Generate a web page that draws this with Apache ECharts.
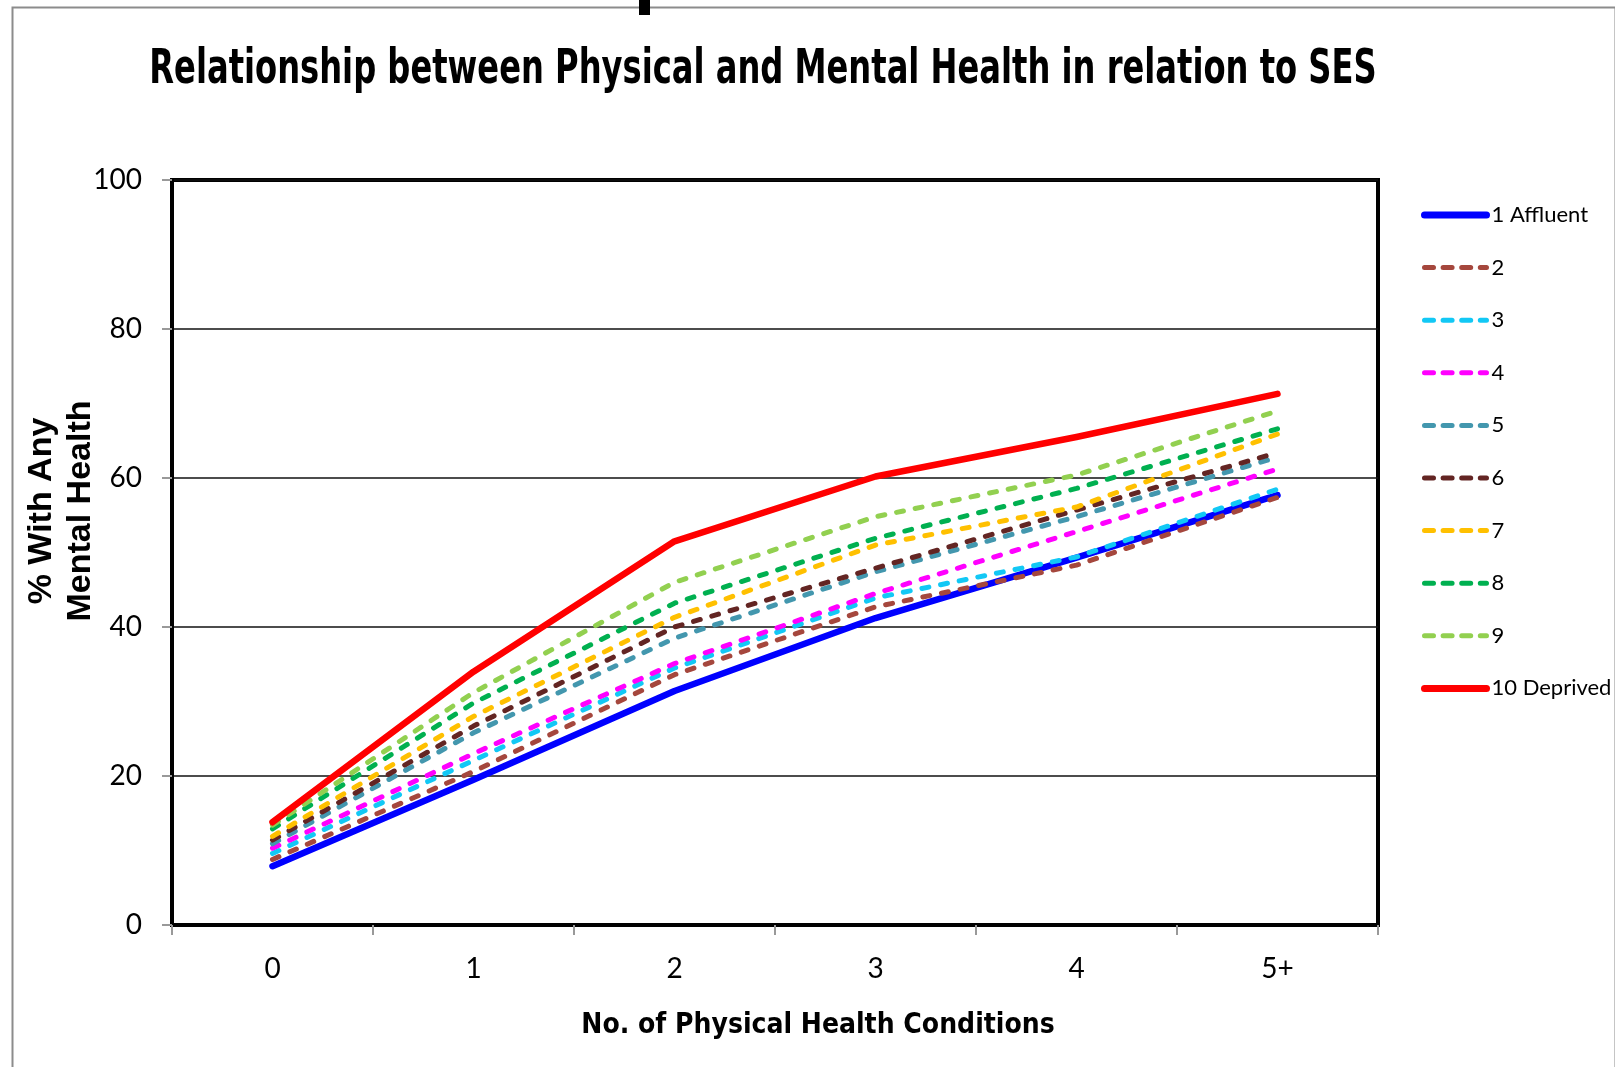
<!DOCTYPE html>
<html>
<head>
<meta charset="utf-8">
<title>Relationship between Physical and Mental Health in relation to SES</title>
<script src="https://cdn.jsdelivr.net/npm/echarts@6/dist/echarts.min.js"></script>
<style>
  html, body { margin: 0; padding: 0; background: #fff; }
  #chart { width: 1615px; height: 1067px; }
</style>
</head>
<body>
<div id="chart"></div>
<script>
// Number of physical health conditions (x categories)
const categories = ['0', '1', '2', '3', '4', '5+'];

// % with any mental health condition, by SES decile
const decile1 = [7.9, 19.5, 31.4, 41.2, 49.3, 57.7];
const decile2 = [8.8, 20.6, 33.6, 42.7, 48.3, 57.4];
const decile3 = [9.6, 22.1, 34.5, 43.9, 49.4, 58.5];
const decile4 = [10.3, 23.0, 35.1, 44.5, 52.8, 61.2];
const decile5 = [10.9, 25.8, 38.5, 47.4, 54.8, 62.8];
const decile6 = [11.4, 26.7, 40.0, 47.9, 55.7, 63.4];
const decile7 = [11.9, 28.0, 41.3, 51.0, 56.1, 65.9];
const decile8 = [12.9, 29.8, 43.2, 51.9, 58.6, 66.6];
const decile9 = [13.4, 31.2, 46.0, 54.8, 60.4, 69.0];
const decile10 = [13.8, 34.0, 51.5, 60.2, 65.5, 71.3];

const seriesNames = ['1 Affluent', '2', '3', '4', '5', '6', '7', '8', '9', '10 Deprived'];
const seriesData = [decile1, decile2, decile3, decile4, decile5, decile6, decile7, decile8, decile9, decile10];
const seriesColors = ['#0000FF', '#A5473D', '#12C8F5', '#FF00FF', '#4397AE', '#632523', '#FFC000', '#00B050', '#92D050', '#FF0000'];
const solidSeries = ['1 Affluent', '10 Deprived'];

const yTicks = [0, 20, 40, 60, 80, 100];

const chart = echarts.init(document.getElementById('chart'), null, { renderer: 'canvas' });

const isSolid = (name) => solidSeries.indexOf(name) >= 0;

const series = seriesNames.map((name, i) => ({
  name: name,
  type: 'line',
  data: seriesData[i],
  symbol: 'none',
  smooth: false,
  z: 3 + i,
  lineStyle: isSolid(name)
    ? { color: seriesColors[i], width: 6.5, type: 'solid', cap: 'round', join: 'round' }
    : { color: seriesColors[i], width: 5, type: [7, 12], cap: 'round', join: 'round' },
  itemStyle: { color: seriesColors[i] },
  emphasis: { disabled: true }
}));

// legend keys: plain line samples, no marker
const legendData = seriesNames.map((name, i) => ({
  name: name,
  itemStyle: { opacity: 0 },
  lineStyle: isSolid(name)
    ? { color: seriesColors[i], width: 7, type: 'solid', cap: 'round' }
    : { color: seriesColors[i], width: 5, type: [9, 9.6], cap: 'round' }
}));

const labelFont = 'Lato, "DejaVu Sans", sans-serif';
const boldFont = '"DejaVu Sans Condensed", "DejaVu Sans", sans-serif';

chart.setOption({
  animation: false,
  backgroundColor: '#fff',
  graphic: [
    // outer frame of the chart object
    { type: 'rect', left: 10, top: 5, shape: { width: 1603, height: 1080 },
      style: { fill: 'none', stroke: '#8c8c8c', lineWidth: 2 }, silent: true },
    { type: 'rect', left: 639, top: 0, shape: { width: 11, height: 15 },
      style: { fill: '#000' }, silent: true },
    {
      type: 'text',
      x: 763, y: 71,
      scaleX: 0.745,
      style: {
        text: 'Relationship between Physical and Mental Health in relation to SES',
        font: 'bold 48px ' + boldFont,
        fill: '#000',
        align: 'center',
        verticalAlign: 'middle'
      },
      silent: true
    },
    {
      type: 'text',
      x: 61, y: 511,
      rotation: Math.PI / 2,
      style: {
        text: '% With Any\nMental Health',
        font: 'bold 34px "Liberation Sans", Arial, sans-serif',
        lineHeight: 39,
        fill: '#000',
        align: 'center',
        verticalAlign: 'middle'
      },
      silent: true
    }
  ],
  grid: {
    left: 172, right: 237, top: 180, bottom: 142,
    outerBoundsMode: 'none',
    show: true, borderColor: '#000', borderWidth: 4, containLabel: false
  },
  legend: {
    orient: 'vertical',
    left: 1416, top: 199,
    itemWidth: 62, itemHeight: 24, itemGap: 30.6,
    textStyle: { fontFamily: labelFont, fontSize: 22, color: '#000' },
    data: legendData,
    selectedMode: false
  },
  xAxis: {
    type: 'category',
    data: categories,
    boundaryGap: true,
    name: 'No. of Physical Health Conditions',
    nameLocation: 'middle',
    nameGap: 87,
    nameTextStyle: { fontFamily: boldFont, fontWeight: 'bold', fontSize: 28, color: '#000', padding: [0, 0, 0, 86] },
    axisLine: { show: true, lineStyle: { color: '#000', width: 4 } },
    axisTick: { show: true, alignWithLabel: false, length: 10, lineStyle: { color: '#999', width: 2 } },
    axisLabel: { margin: 30, fontFamily: labelFont, fontSize: 28, color: '#000' },
    splitLine: { show: false }
  },
  yAxis: {
    type: 'value',
    min: 0, max: 100, interval: 20,
    axisLine: { show: true, lineStyle: { color: '#000', width: 4 } },
    axisTick: { show: true, length: 10, lineStyle: { color: '#999', width: 2 } },
    axisLabel: {
      margin: 30, fontFamily: labelFont, fontSize: 28, color: '#000',
      formatter: (v) => (yTicks.indexOf(v) >= 0 ? String(v) : '')
    },
    splitLine: { show: true, lineStyle: { color: '#111', width: 1.5 } }
  },
  series: series
});
</script>
</body>
</html>
